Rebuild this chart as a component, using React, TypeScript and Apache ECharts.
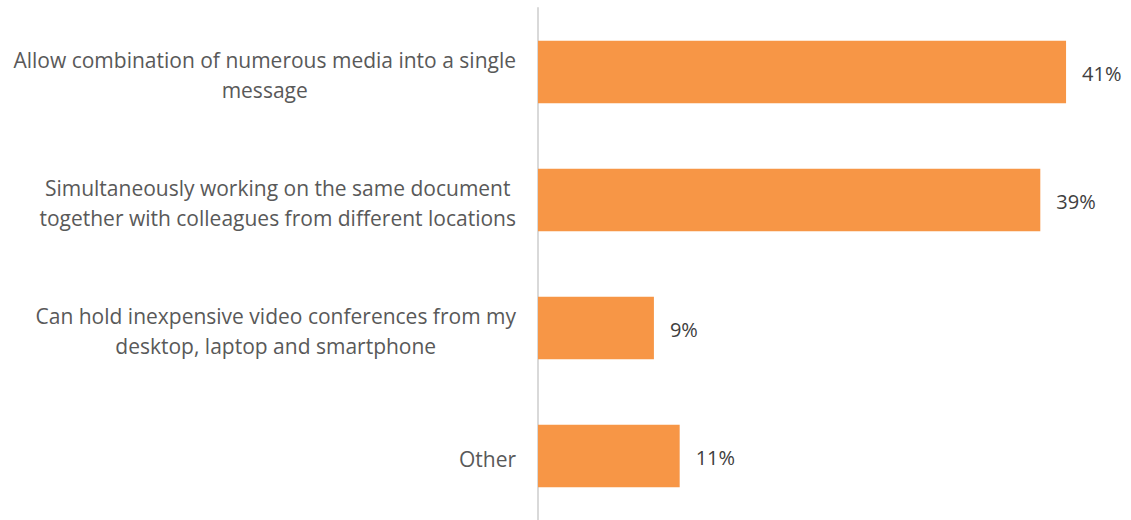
import React, { useEffect, useRef } from "react";
import * as echarts from "echarts";

const categories = [
  "Allow combination of numerous media into a single\nmessage",
  "Simultaneously working on the same document\ntogether with colleagues from different locations",
  "Can hold inexpensive video conferences from my\ndesktop, laptop and smartphone",
  "Other",
];
const values = [41, 39, 9, 11];

export default function App() {
  const ref = useRef<HTMLDivElement>(null);
  useEffect(() => {
    const chart = echarts.init(ref.current!, null, { renderer: "svg" });
    chart.setOption({
      animation: false,
      grid: { left: 538, top: 8, width: 566.7, height: 516 },
      xAxis: {
        type: "value",
        min: 0,
        max: 44,
        show: false,
      },
      yAxis: {
        type: "category",
        data: categories,
        inverse: true,
        axisLine: { show: true, lineStyle: { color: "#d9d9d9", width: 2 } },
        axisTick: { show: false },
        axisLabel: {
          margin: 22,
          align: "right",
          padding: [5, 0, 0, 0],
          formatter: (v: string) =>
            v
              .split("\n")
              .map((l) => `{c|${l}}`)
              .join("\n"),
          rich: {
            c: {
              align: "center",
              color: "#595959",
              fontFamily: "Open Sans",
              fontSize: 21,
              lineHeight: 30,
            },
          },
        },
      },
      series: [
        {
          type: "bar",
          data: values,
          barCategoryGap: "51%",
          itemStyle: { color: "#f79646" },
          label: {
            show: true,
            position: "right",
            distance: 16,
            formatter: "{c}%",
            color: "#404040",
            fontFamily: "Open Sans",
            fontSize: 20,
            offset: [0, 1],
          },
        },
      ],
    });
    return () => chart.dispose();
  }, []);
  return <div ref={ref} style={{ width: 1131, height: 520, position: "absolute", left: 0, top: 0 }} />;
}
